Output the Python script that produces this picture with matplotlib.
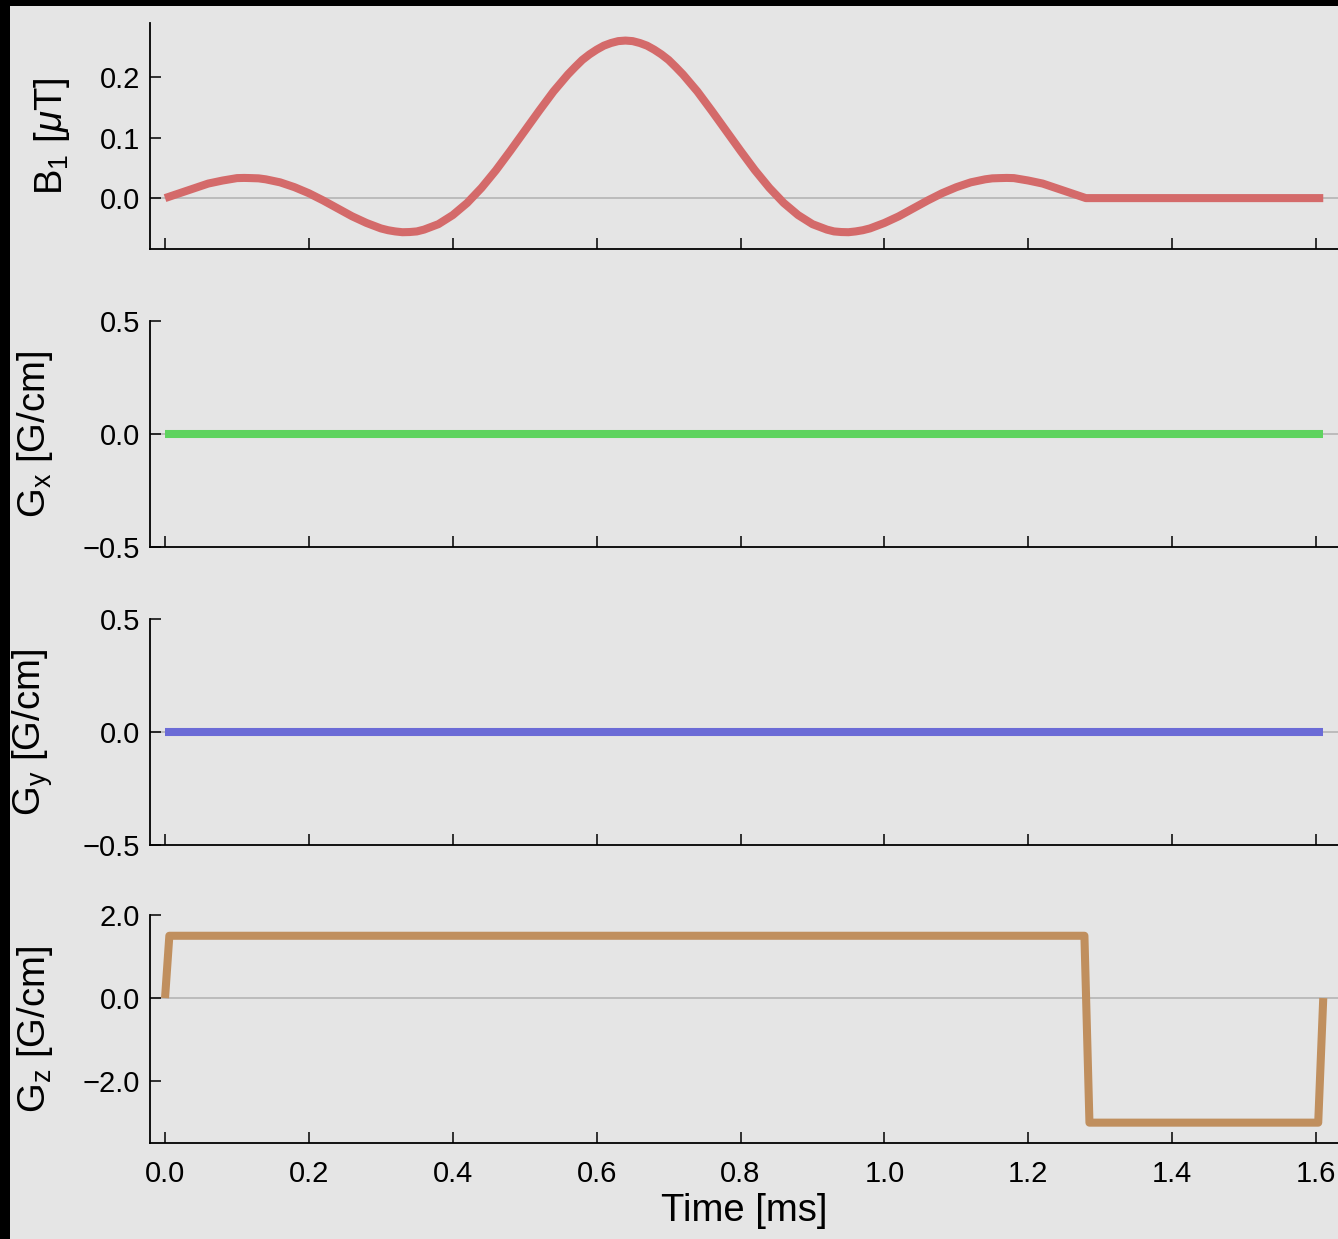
import numpy as np
import matplotlib
matplotlib.use("Agg")
import matplotlib.pyplot as plt
from matplotlib.patches import Rectangle

plt.rcParams['font.family'] = ['Liberation Sans', 'DejaVu Sans']
plt.rcParams['mathtext.fontset'] = 'custom'
plt.rcParams['mathtext.rm'] = 'Liberation Sans'
plt.rcParams['mathtext.it'] = 'Liberation Sans:italic'
plt.rcParams['axes.unicode_minus'] = True

# ---- data ----
t_b1 = [0.00, 0.02, 0.04, 0.06, 0.08, 0.09, 0.10, 0.11, 0.12, 0.13, 0.14, 0.16, 0.18, 0.20, 0.22,
        0.24, 0.26, 0.28, 0.30, 0.31, 0.32, 0.33, 0.34, 0.35, 0.36, 0.38, 0.40, 0.42, 0.44, 0.46,
        0.48, 0.50, 0.52, 0.54, 0.56, 0.57, 0.58, 0.59, 0.60, 0.61, 0.62, 0.63, 0.64,
        0.65, 0.66, 0.67, 0.68, 0.69, 0.70, 0.71, 0.72, 0.74, 0.76, 0.78, 0.80, 0.82, 0.84, 0.86,
        0.88, 0.90, 0.92, 0.93, 0.94, 0.95, 0.96, 0.97, 0.98, 1.00, 1.02, 1.04, 1.06, 1.08,
        1.10, 1.12, 1.14, 1.15, 1.16, 1.17, 1.18, 1.19, 1.20, 1.22, 1.24, 1.26, 1.28, 1.61]
b1 = [0.000, 0.008, 0.016, 0.024, 0.029, 0.031, 0.033, 0.0333, 0.033, 0.0326, 0.031, 0.026, 0.018, 0.008, -0.004,
      -0.017, -0.030, -0.041, -0.050, -0.053, -0.055, -0.0563, -0.056, -0.055, -0.052, -0.043, -0.028, -0.008, 0.017, 0.046,
      0.078, 0.111, 0.144, 0.176, 0.204, 0.2163, 0.228, 0.2372, 0.245, 0.2516, 0.256, 0.2591, 0.260,
      0.2591, 0.256, 0.2516, 0.245, 0.2372, 0.228, 0.2163, 0.204, 0.176, 0.144, 0.111, 0.078, 0.046, 0.017, -0.008,
      -0.028, -0.043, -0.052, -0.055, -0.056, -0.0563, -0.055, -0.053, -0.050, -0.041, -0.030, -0.017, -0.004, 0.008,
      0.018, 0.026, 0.031, 0.0326, 0.033, 0.0333, 0.033, 0.031, 0.029, 0.024, 0.016, 0.008, 0.000, 0.000]

t_g = [0.0, 1.61]
gx = [0.0, 0.0]
gy = [0.0, 0.0]

t_gz = [0.0, 0.006, 1.278, 1.285, 1.603, 1.61]
gz = [0.0, 1.5, 1.5, -3.0, -3.0, 0.0]

xticks = [0.0, 0.2, 0.4, 0.6, 0.8, 1.0, 1.2, 1.4, 1.6]
yticks_b1 = [0.0, 0.1, 0.2]
yticks_g = [-0.5, 0.0, 0.5]
yticks_gz = [-2.0, 0.0, 2.0]

# ---- figure ----
W, H = 1338, 1239
fig = plt.figure(figsize=(W / 100, H / 100), dpi=100)
bg = '#e5e5e5'
fig.patch.set_facecolor(bg)

left = 150 / W
width = (W - 150) / W
panels = [(23, 249), (321, 547), (619, 845), (915, 1143)]
axes = []
for top, bot in panels:
    ax = fig.add_axes([left, 1 - bot / H, width, (bot - top) / H])
    axes.append(ax)

series = [
    (t_b1, b1, '#d46a6a', (-0.084, 0.289), yticks_b1, r'B$_{\mathrm{1}}$ [$\mu$T]'),
    (t_g, gx, '#5fd35f', (-0.5, 0.5), yticks_g, r'G$_{\mathrm{x}}$ [G/cm]'),
    (t_g, gy, '#6b6bd6', (-0.5, 0.5), yticks_g, r'G$_{\mathrm{y}}$ [G/cm]'),
    (t_gz, gz, '#c08f5e', (-3.49, 2.0), yticks_gz, r'G$_{\mathrm{z}}$ [G/cm]'),
]

for i, (ax, (tx, y, c, ylim, yt, lab)) in enumerate(zip(axes, series)):
    ax.set_facecolor(bg)
    ax.axhline(0, color='#b4b4b4', lw=1.2, zorder=1)
    ax.plot(tx, y, color=c, lw=5.8, solid_capstyle='butt', solid_joinstyle='round', zorder=2)
    ax.set_xlim(-0.0209, 1.6305)
    ax.set_ylim(*ylim)
    ax.set_xticks(xticks)
    ax.set_yticks(yt)
    ax.set_yticklabels(['{:.1f}'.format(v).replace('-', '\u2212') for v in yt])
    if i == 3:
        ax.set_xticklabels(['{:.1f}'.format(v) for v in xticks])
        ax.set_xlabel('Time [ms]', fontsize=27.5, labelpad=4)
    else:
        ax.set_xticklabels([])
    ax.set_ylabel(lab, fontsize=27.5, labelpad=20)
    for s in ['top', 'right']:
        ax.spines[s].set_visible(False)
    for s in ['left', 'bottom']:
        ax.spines[s].set_linewidth(1.3)
        ax.spines[s].set_color('black')
    ax.tick_params(direction='in', length=8, width=1.1, labelsize=21, pad=7, colors='black')
    ax.tick_params(axis='x', pad=12)

# black borders (top and left)
fig.patches.append(Rectangle((0, 1 - 5.5 / H), 1, 5.5 / H, transform=fig.transFigure,
                             facecolor='black', edgecolor='none', zorder=10))
fig.patches.append(Rectangle((0, 0), 10 / W, 1, transform=fig.transFigure,
                             facecolor='black', edgecolor='none', zorder=10))

fig.savefig('out.png', dpi=100, facecolor=bg)
